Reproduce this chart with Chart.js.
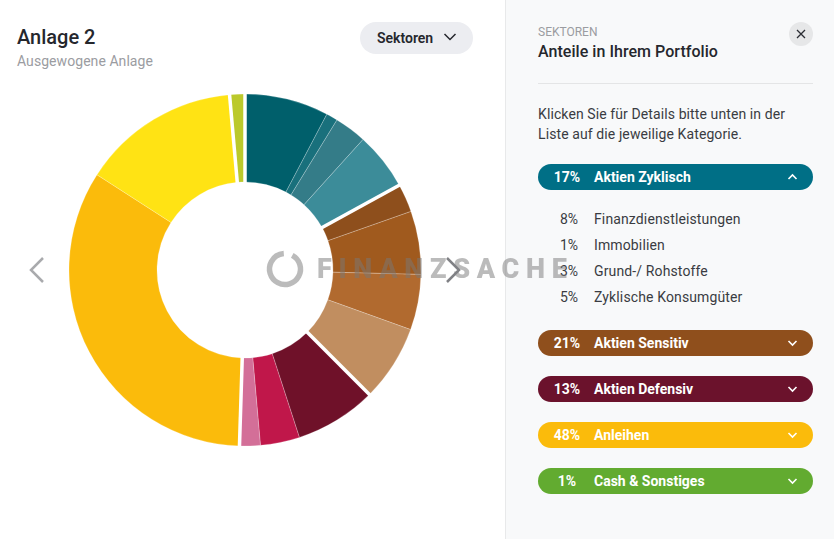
<!DOCTYPE html>
<html lang="de">
<head>
<meta charset="utf-8">
<title>Anlage 2</title>
<script src="https://cdn.jsdelivr.net/npm/chart.js@4"></script>
<style>
html, body { margin: 0; padding: 0; background: #fff; }
body { width: 834px; height: 539px; position: relative; overflow: hidden; font-family: Roboto, sans-serif; color: #25272d; }
.abs { position: absolute; white-space: nowrap; }
#title { left: 17px; top: 25px; font-size: 20px; line-height: 24px; font-weight: 500; }
#subtitle { left: 17px; top: 52px; font-size: 14px; line-height: 18px; color: #9b9ca1; letter-spacing: 0.06px; }
#selector { left: 360px; top: 22px; width: 113px; height: 32px; border-radius: 16px; background: #ecedf1; }
#selector span { position: absolute; left: 17px; top: 7px; font-size: 14px; line-height: 18px; font-weight: 600; }
#chartBox { left: 45px; top: 70px; width: 400px; height: 400px; }
#panel { left: 505px; top: 0; width: 328px; height: 539px; background: #f8f9fa; border-left: 1px solid #e8e9ea; }
#panelKicker { left: 538px; top: 24px; font-size: 12px; line-height: 16px; color: #9b9ca1; }
#panelTitle { left: 538px; top: 42px; font-size: 16px; line-height: 20px; font-weight: 500; letter-spacing: 0.04px; }
#closeBtn { left: 789px; top: 22px; width: 24px; height: 24px; border-radius: 50%; background: #e6e7e8; }
#divider { left: 538px; top: 83px; width: 275px; height: 1px; background: #e4e5e6; }
#hint { left: 538px; top: 104px; font-size: 14px; line-height: 20px; color: #3a3c42; letter-spacing: 0.1px; }
.pill { position: absolute; left: 538px; width: 275px; height: 26px; border-radius: 13px; color: #fff; font-size: 14px; font-weight: 700; line-height: 26px; }
.pill .pct { position: absolute; left: 12px; width: 34px; text-align: center; }
.pill .name { position: absolute; left: 56px; }
.pill svg { position: absolute; left: 249px; top: 8px; }
.row { position: absolute; font-size: 14px; line-height: 18px; color: #3a3c42; }
.row .pct { position: absolute; left: 538px; width: 40px; text-align: right; }
.row .name { position: absolute; left: 594px; white-space: nowrap; letter-spacing: 0.13px; }
#mark { left: 317px; top: 254px; font-size: 27px; line-height: 30px; font-weight: 900; letter-spacing: 6.7px; color: rgba(120,120,120,0.5); z-index: 5; }
.over { position: absolute; z-index: 6; }
</style>
</head>
<body>
<div class="abs" id="panel"></div>
<div class="abs" id="title">Anlage 2</div>
<div class="abs" id="subtitle">Ausgewogene Anlage</div>
<div class="abs" id="selector"><span>Sektoren</span>
  <svg style="position:absolute;left:83px;top:10px" width="14" height="10"><polyline points="1.5,2 7,7.5 12.5,2" fill="none" stroke="#25272d" stroke-width="1.5"/></svg>
</div>
<div class="abs" id="chartBox"><canvas id="sectorChart" width="400" height="400"></canvas></div>

<svg class="over" style="left:27px;top:255px" width="20" height="30"><polyline points="16,3 4,15 16,27" fill="none" stroke="#a9aaad" stroke-width="2.5"/></svg>
<svg class="over" style="left:444px;top:255px" width="20" height="30"><polyline points="3,3 15,15 3,27" fill="none" stroke="#808185" stroke-width="2.5"/></svg>

<div class="abs" id="panelKicker">SEKTOREN</div>
<div class="abs" id="panelTitle">Anteile in Ihrem Portfolio</div>
<div class="abs" id="closeBtn"><svg width="24" height="24"><path d="M8 8 L16 16 M16 8 L8 16" stroke="#2b2d33" stroke-width="1.3" fill="none"/></svg></div>
<div class="abs" id="divider"></div>
<div class="abs" id="hint">Klicken Sie für Details bitte unten in der<br>Liste auf die jeweilige Kategorie.</div>
<div id="list"></div>

<svg class="over" style="left:265px;top:249px" width="40" height="40"><circle cx="20" cy="20" r="15.5" fill="none" stroke="rgba(120,120,120,0.5)" stroke-width="5.5" stroke-dasharray="88 9.4" transform="rotate(-62 20 20)"/></svg>
<div class="abs" id="mark">FINANZSACHE</div>

<script>
// Ringsegmente im Uhrzeigersinn ab 12 Uhr
const sliceLabels = ['Finanzdienstleistungen', 'Immobilien', 'Grund-/ Rohstoffe', 'Zyklische Konsumgüter',
    'Sensitiv 1', 'Sensitiv 2', 'Sensitiv 3', 'Sensitiv 4',
    'Defensiv 1', 'Defensiv 2', 'Defensiv 3',
    'Anleihen 1', 'Anleihen 2', 'Cash & Sonstiges'];
const sliceValues = [7.7, 1.05, 2.95, 5.3, 2.6, 5.8, 5.1, 7, 7.5, 3.6, 1.9, 33.6, 14.5, 1.4];
const sliceColors = ['#005f6b', '#19707c', '#347c88', '#3c8c99',
    '#8e4f1c', '#a05a1e', '#b16a2f', '#c18e60',
    '#6f1129', '#c0174a', '#d36f98',
    '#fbbb0b', '#ffe314', '#bbc92b'];
// Index des letzten Segments jeder Gruppe: dort sitzt die breite weisse Fuge
const groupEnds = [3, 7, 10, 12, 13];

const groupNames = ['Aktien Zyklisch', 'Aktien Sensitiv', 'Aktien Defensiv', 'Anleihen', 'Cash & Sonstiges'];
const groupShares = ['17%', '21%', '13%', '48%', '1%'];
const groupColors = ['#006f86', '#8f4f1c', '#6b122c', '#fbbb0b', '#62ab30'];
const groupTops = [164, 330, 376, 422, 468];

const detailNames = ['Finanzdienstleistungen', 'Immobilien', 'Grund-/ Rohstoffe', 'Zyklische Konsumgüter'];
const detailShares = ['8%', '1%', '3%', '5%'];
const detailTops = [210, 236, 262, 288];

const list = document.getElementById('list');
groupNames.forEach((name, i) => {
    const pill = document.createElement('div');
    pill.className = 'pill';
    pill.style.top = groupTops[i] + 'px';
    pill.style.background = groupColors[i];
    const arrow = i === 0 ? '1.5,7 5.5,3 9.5,7' : '1.5,3 5.5,7 9.5,3';
    pill.innerHTML = `<span class="pct">${groupShares[i]}</span><span class="name">${name}</span>` +
        `<svg width="11" height="9"><polyline points="${arrow}" fill="none" stroke="#fff" stroke-width="1.6"/></svg>`;
    list.appendChild(pill);
});
detailNames.forEach((name, i) => {
    const row = document.createElement('div');
    row.className = 'row';
    row.style.top = detailTops[i] + 'px';
    row.innerHTML = `<span class="pct">${detailShares[i]}</span><span class="name">${name}</span>`;
    list.appendChild(row);
});

// Breite Fugen zwischen den Gruppen, direkt an den Kanten der Segmente
const groupGaps = {
    id: 'groupGaps',
    afterDatasetsDraw(chart) {
        const arcs = chart.getDatasetMeta(0).data;
        const c = chart.ctx;
        c.save();
        c.strokeStyle = '#fff';
        c.lineWidth = 3.5;
        groupEnds.forEach(i => {
            const a = arcs[i];
            c.beginPath();
            c.moveTo(a.x + Math.cos(a.endAngle) * (a.innerRadius - 1), a.y + Math.sin(a.endAngle) * (a.innerRadius - 1));
            c.lineTo(a.x + Math.cos(a.endAngle) * (a.outerRadius + 1), a.y + Math.sin(a.endAngle) * (a.outerRadius + 1));
            c.stroke();
        });
        c.restore();
    }
};

new Chart(document.getElementById('sectorChart'), {
    type: 'doughnut',
    data: {
        labels: sliceLabels,
        datasets: [{
            data: sliceValues,
            backgroundColor: sliceColors,
            borderColor: 'rgba(255,255,255,0.45)',
            borderWidth: 0.5
        }]
    },
    options: {
        responsive: false,
        animation: false,
        radius: 176,
        cutout: '50%',
        plugins: { legend: { display: false }, tooltip: { enabled: false } }
    },
    plugins: [groupGaps]
});
</script>
</body>
</html>
